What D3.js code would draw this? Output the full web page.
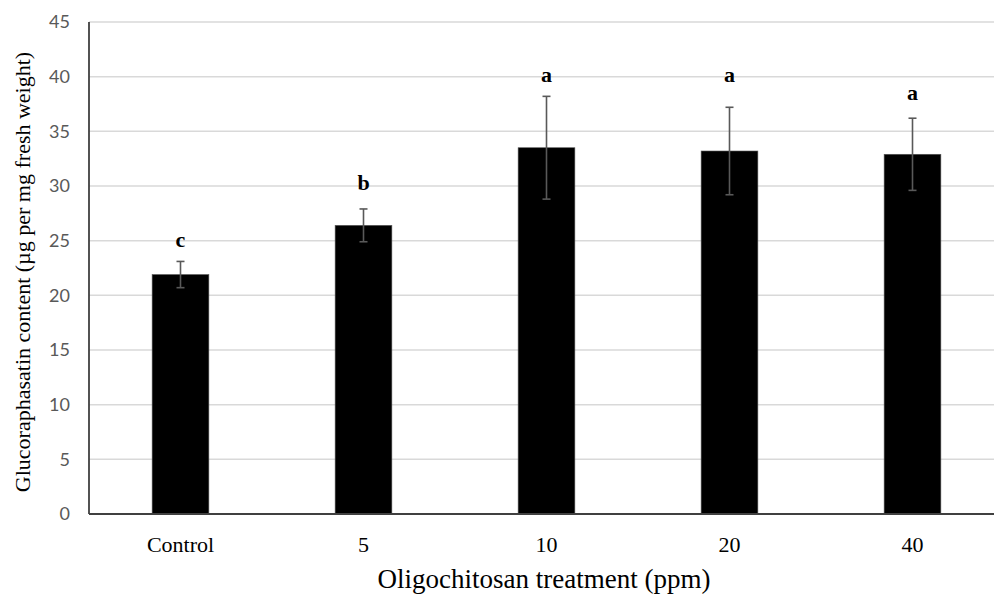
<!DOCTYPE html>
<html>
<head>
<meta charset="utf-8">
<script src="https://cdn.jsdelivr.net/npm/d3@7"></script>
<style>
  body { margin: 0; background: #fff; }
  svg { display: block; font-family: "Liberation Serif", "Times New Roman", serif; }
</style>
</head>
<body>
<div id="chart"></div>
<script>
// chart data
const categories = ['Control', '5', '10', '20', '40'];
const means = [21.9, 26.4, 33.5, 33.2, 32.9];
const errors = [1.2, 1.5, 4.7, 4.0, 3.3];
const letters = ['c', 'b', 'a', 'a', 'a'];
const letterAt = [24.4, 29.6, 39.5, 39.5, 37.9]; // letter baseline, in y units
const yTicks = [0, 5, 10, 15, 20, 25, 30, 35, 40, 45];

const width = 994, height = 596;
const margin = { top: 22, right: -10, bottom: 82, left: 89 };

const svg = d3.select('#chart')
  .append('svg')
  .attr('width', width)
  .attr('height', height);

const x = d3.scaleBand()
  .domain(categories)
  .range([margin.left, width - margin.right]);

const y = d3.scaleLinear()
  .domain([0, 45])
  .range([height - margin.bottom, margin.top]);

// gridlines
svg.append('g')
  .selectAll('line')
  .data(yTicks.filter(d => d > 0))
  .join('line')
  .attr('x1', margin.left)
  .attr('x2', width)
  .attr('y1', d => y(d))
  .attr('y2', d => y(d))
  .style('stroke', '#d9d9d9')
  .style('stroke-width', 1.5);

// y tick labels
svg.append('g')
  .selectAll('text')
  .data(yTicks)
  .join('text')
  .attr('x', 70)
  .attr('y', d => y(d))
  .attr('dy', '0.35em')
  .attr('text-anchor', 'end')
  .style('font-family', 'Lato, "Open Sans", sans-serif')
  .style('font-size', '18px')
  .style('fill', '#595959')
  .text(d => d);

// bars
const barW = x.bandwidth() * 0.31;
svg.append('g')
  .selectAll('rect')
  .data(categories)
  .join('rect')
  .attr('x', d => x(d) + x.bandwidth() / 2 - barW / 2)
  .attr('width', barW)
  .attr('y', (d, i) => y(means[i]))
  .attr('height', (d, i) => y(0) - y(means[i]))
  .style('fill', '#000')
  .style('stroke', '#555')
  .style('stroke-width', 0.6);

// error bars
const eb = svg.append('g')
  .style('stroke', '#595959')
  .style('stroke-width', 1.6);
categories.forEach((c, i) => {
  const cx = x(c) + x.bandwidth() / 2;
  const hi = y(means[i] + errors[i]);
  const lo = y(means[i] - errors[i]);
  eb.append('line').attr('x1', cx).attr('x2', cx).attr('y1', hi).attr('y2', lo);
  eb.append('line').attr('x1', cx - 4).attr('x2', cx + 4).attr('y1', hi).attr('y2', hi);
  eb.append('line').attr('x1', cx - 4).attr('x2', cx + 4).attr('y1', lo).attr('y2', lo);
});

// significance letters
svg.append('g')
  .selectAll('text')
  .data(categories)
  .join('text')
  .attr('x', d => x(d) + x.bandwidth() / 2)
  .attr('y', (d, i) => y(letterAt[i]))
  .attr('text-anchor', 'middle')
  .style('font-size', '22px')
  .style('font-weight', 'bold')
  .style('fill', '#000')
  .text((d, i) => letters[i]);

// axes lines
svg.append('line')
  .attr('x1', margin.left).attr('x2', margin.left)
  .attr('y1', y(45)).attr('y2', y(0))
  .style('stroke', '#404040')
  .style('stroke-width', 1.8);
svg.append('line')
  .attr('x1', margin.left).attr('x2', width)
  .attr('y1', y(0)).attr('y2', y(0))
  .style('stroke', '#404040')
  .style('stroke-width', 1.8);

// x tick labels
svg.append('g')
  .selectAll('text')
  .data(categories)
  .join('text')
  .attr('x', d => x(d) + x.bandwidth() / 2)
  .attr('y', y(0) + 30)
  .attr('dy', '0.35em')
  .attr('text-anchor', 'middle')
  .style('font-size', '22px')
  .style('fill', '#000')
  .text(d => d);

// axis titles
svg.append('text')
  .attr('x', 544)
  .attr('y', 588)
  .attr('text-anchor', 'middle')
  .style('font-size', '27px')
  .style('fill', '#000')
  .text('Oligochitosan treatment (ppm)');

svg.append('text')
  .attr('transform', 'translate(30,272) rotate(-90)')
  .attr('text-anchor', 'middle')
  .style('font-size', '22px')
  .style('fill', '#000')
  .text('Glucoraphasatin content (µg per mg fresh weight)');
</script>
</body>
</html>
